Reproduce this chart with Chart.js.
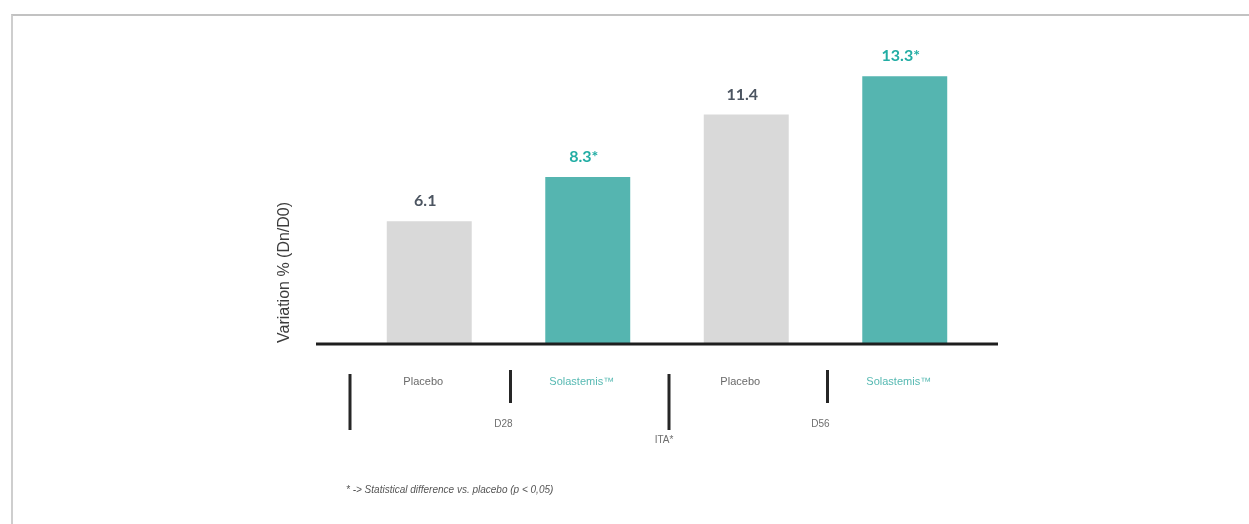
<!DOCTYPE html>
<html><head><meta charset="utf-8">
<script src="https://cdn.jsdelivr.net/npm/chart.js@4.4.0/dist/chart.umd.min.js"></script>
<style>
html,body{margin:0;padding:0;background:#fff;}
#wrap{position:relative;width:1249px;height:524px;overflow:hidden;background:#fff;}
#frame{position:absolute;left:11px;top:14px;width:1300px;height:600px;border-top:2px solid #c2c2c2;border-left:2px solid #cecece;}
canvas{position:absolute;left:0;top:0;}
#note{position:absolute;left:346px;top:484px;font:italic 10px 'Liberation Sans',Arial,sans-serif;color:#555;white-space:nowrap;}
</style></head>
<body><div id="wrap"><div id="frame"></div><canvas id="c" width="1249" height="524"></canvas><div id="note">* -&gt; Statistical difference vs. placebo (p &lt; 0,05)</div></div>
<script>
const categories = ['Placebo', 'Solastemis\u2122', 'Placebo', 'Solastemis\u2122'];
const values = [6.1, 8.3, 11.4, 13.3];
const significant = [false, true, false, true];
const timepoints = ['D28', 'D56'];
const groupNote = 'ITA*';
const yTitle = 'Variation % (Dn/D0)';
const yMin = 0, yMax = 15;

const GREY = '#d9d9d9', TEAL = '#55b5b0';
const barColors = categories.map((c, i) => i % 2 ? TEAL : GREY);

const annot = {
  id: 'annot',
  afterDraw(chart) {
    const ctx = chart.ctx, ca = chart.chartArea;
    const xs = chart.scales.x;
    const meta = chart.getDatasetMeta(0);
    ctx.save();
    // baseline
    ctx.fillStyle = '#1e1e1e';
    ctx.fillRect(ca.left - 34, ca.bottom - 1.5, (ca.right + 14) - (ca.left - 34), 3);
    // value labels
    ctx.font = 'bold 16px Lato, "Open Sans", sans-serif';
    ctx.textAlign = 'center';
    ctx.textBaseline = 'middle';
    meta.data.forEach((bar, i) => {
      ctx.fillStyle = significant[i] ? '#22ada4' : '#4c5561';
      const txt = values[i].toFixed(1) + (significant[i] ? '*' : '');
      ctx.fillText(txt, bar.x - 4, bar.y - 20);
    });
    // y title
    ctx.save();
    ctx.translate(ca.left - 65, ca.bottom - 1);
    ctx.rotate(-Math.PI / 2);
    ctx.font = '16px "Liberation Sans", Arial, sans-serif';
    ctx.fillStyle = '#3c3c3c';
    ctx.textAlign = 'left';
    ctx.textBaseline = 'middle';
    ctx.fillText(yTitle, 0, 0);
    ctx.restore();
    // separators
    const step = xs.getPixelForValue(1) - xs.getPixelForValue(0);
    ctx.fillStyle = '#262626';
    const sepX = [];
    for (let i = 0; i < categories.length; i++) {
      const x = xs.getPixelForValue(i) - step / 2 + (i > 0 ? 2 : 0);
      sepX.push(x);
      if (i % 2 === 0) ctx.fillRect(x - 1.5, ca.bottom + 30, 3, 56);
      else ctx.fillRect(x - 1.5, ca.bottom + 26, 3, 33);
    }
    ctx.font = '10px "Liberation Sans", Arial, sans-serif';
    ctx.fillStyle = '#6e6e6e';
    ctx.textBaseline = 'middle';
    ctx.textAlign = 'right';
    timepoints.forEach((t, k) => {
      ctx.fillText(t, sepX[2 * k + 1] + 2, ca.bottom + 80);
    });
    ctx.textAlign = 'center';
    ctx.fillText(groupNote, sepX[2] - 5, ca.bottom + 96);
    ctx.restore();
  }
};

new Chart(document.getElementById('c'), {
  type: 'bar',
  data: {
    labels: categories,
    datasets: [{
      data: values,
      backgroundColor: barColors,
      borderWidth: 0,
      categoryPercentage: 1,
      barPercentage: 0.536
    }]
  },
  options: {
    responsive: false,
    animation: false,
    layout: { padding: { left: 350, right: 265, top: 42, bottom: 0 } },
    plugins: { legend: { display: false }, tooltip: { enabled: false } },
    scales: {
      x: {
        grid: { display: false, drawTicks: false },
        border: { display: false },
        ticks: {
          padding: 31,
          labelOffset: -6,
          font: { size: 11, family: '"Liberation Sans", Arial, sans-serif' },
          color: (c) => c.index % 2 ? '#56b9b2' : '#6a6a6a'
        },
        afterFit: (s) => { s.height = 180; }
      },
      y: {
        display: false,
        min: yMin,
        max: yMax
      }
    }
  },
  plugins: [annot]
});
</script>
</body></html>
